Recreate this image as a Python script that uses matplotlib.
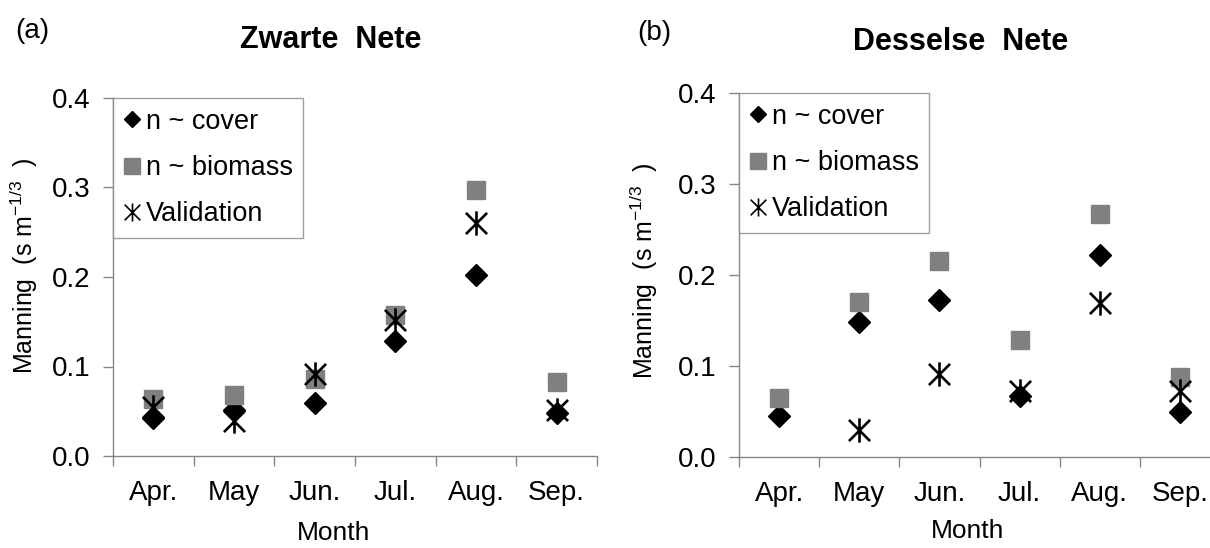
import numpy as np
import matplotlib
matplotlib.use("Agg")
from matplotlib import pyplot as plt
from matplotlib.path import Path
from matplotlib.lines import Line2D

plt.rcParams['font.family'] = ['Liberation Sans', 'DejaVu Sans']
plt.rcParams['mathtext.fontset'] = 'custom'
plt.rcParams['mathtext.rm'] = 'Liberation Sans'
plt.rcParams['mathtext.it'] = 'Liberation Sans:italic'

months = ['Apr.', 'May', 'Jun.', 'Jul.', 'Aug.', 'Sep.']

# Zwarte Nete
zwarte_cover = [0.043, 0.051, 0.059, 0.128, 0.202, 0.048]
zwarte_biomass = [0.064, 0.068, 0.086, 0.157, 0.297, 0.083]
zwarte_validation = [0.055, 0.039, 0.092, 0.152, 0.260, 0.051]

# Desselse Nete
dessel_cover = [0.045, 0.148, 0.172, 0.067, 0.222, 0.049]
dessel_biomass = [0.065, 0.170, 0.215, 0.129, 0.267, 0.088]
dessel_validation = [np.nan, 0.030, 0.091, 0.072, 0.169, 0.072]

GREY = '#808080'
AXIS = '#878787'

# excel style star: an x with a vertical bar through it
star = Path([(-1, -1), (1, 1), (-1, 1), (1, -1), (0, -1.15), (0, 1.15)],
            [Path.MOVETO, Path.LINETO] * 3)


def draw_panel(ax, cover, biomass, validation):
    x = np.arange(len(months))
    ax.plot(x, cover, linestyle='none', marker='D', ms=11.5, color='black')
    ax.plot(x, biomass, linestyle='none', marker='s', ms=13.5, color=GREY)
    ax.plot(x, validation, linestyle='none', marker=star, ms=17.5,
            mfc='none', mec='black', mew=1.9)

    ax.set_xlim(-0.5, len(months) - 0.5)
    ax.set_ylim(0, 0.4)
    ticks = np.arange(0, 0.41, 0.1)
    ax.set_yticks(ticks)
    ax.set_yticklabels(['%.1f' % v for v in ticks])
    ax.set_xticks(x)
    ax.set_xticklabels(months)
    ax.set_xticks(np.arange(-0.5, len(months)), minor=True)
    ax.tick_params(axis='x', which='major', length=0, pad=17, labelsize=20)
    ax.tick_params(axis='x', which='minor', length=7, width=1, color=AXIS)
    ax.tick_params(axis='y', length=7, width=1, color=AXIS, pad=9,
                   labelsize=20)
    for side in ('top', 'right'):
        ax.spines[side].set_visible(False)
    for side in ('left', 'bottom'):
        ax.spines[side].set_color(AXIS)
        ax.spines[side].set_linewidth(1)

    handles = [
        Line2D([], [], linestyle='none', marker='D', ms=8.5, color='black'),
        Line2D([], [], linestyle='none', marker='s', ms=11, color=GREY),
        Line2D([], [], linestyle='none', marker=star, ms=13, mfc='none',
               mec='black', mew=1.2),
    ]
    leg = ax.legend(handles, ['n ~ cover', 'n ~ biomass', 'Validation'],
                    loc='upper left', bbox_to_anchor=(0, 1), borderaxespad=0,
                    fontsize=19.5, frameon=True, fancybox=False,
                    handlelength=0.6, handletextpad=0.2, labelspacing=0.75,
                    borderpad=0.4)
    leg.get_frame().set_edgecolor(AXIS)
    leg.get_frame().set_linewidth(1)


fig = plt.figure(figsize=(12.1, 5.48), dpi=100)
W, H = 1210.0, 548.0
ax1 = fig.add_axes([113 / W, 1 - 456 / H, 484 / W, 358 / H])
ax2 = fig.add_axes([739 / W, 1 - 457 / H, 481 / W, 364 / H])

draw_panel(ax1, zwarte_cover, zwarte_biomass, zwarte_validation)
draw_panel(ax2, dessel_cover, dessel_biomass, dessel_validation)

ylabel = r'Manning  (s m$^{\mathrm{-1/3}}$  )'
fig.text(331 / W, 1 - 40 / H, 'Zwarte  Nete', fontsize=22, fontweight='bold',
         ha='center', va='center')
fig.text(961 / W, 1 - 42 / H, 'Desselse  Nete', fontsize=22,
         fontweight='bold', ha='center', va='center')
fig.text(15 / W, 1 - 31 / H, '(a)', fontsize=20, ha='left', va='center')
fig.text(637 / W, 1 - 33 / H, '(b)', fontsize=20, ha='left', va='center')
fig.text(24 / W, 1 - 266 / H, ylabel, fontsize=18, rotation=90,
         ha='center', va='center')
fig.text(644 / W, 1 - 271 / H, ylabel, fontsize=18, rotation=90,
         ha='center', va='center')
fig.text(334 / W, 1 - 533 / H, 'Month', fontsize=19, ha='center',
         va='center')
fig.text(968 / W, 1 - 531 / H, 'Month', fontsize=19, ha='center',
         va='center')

fig.savefig('out.png', dpi=100)
